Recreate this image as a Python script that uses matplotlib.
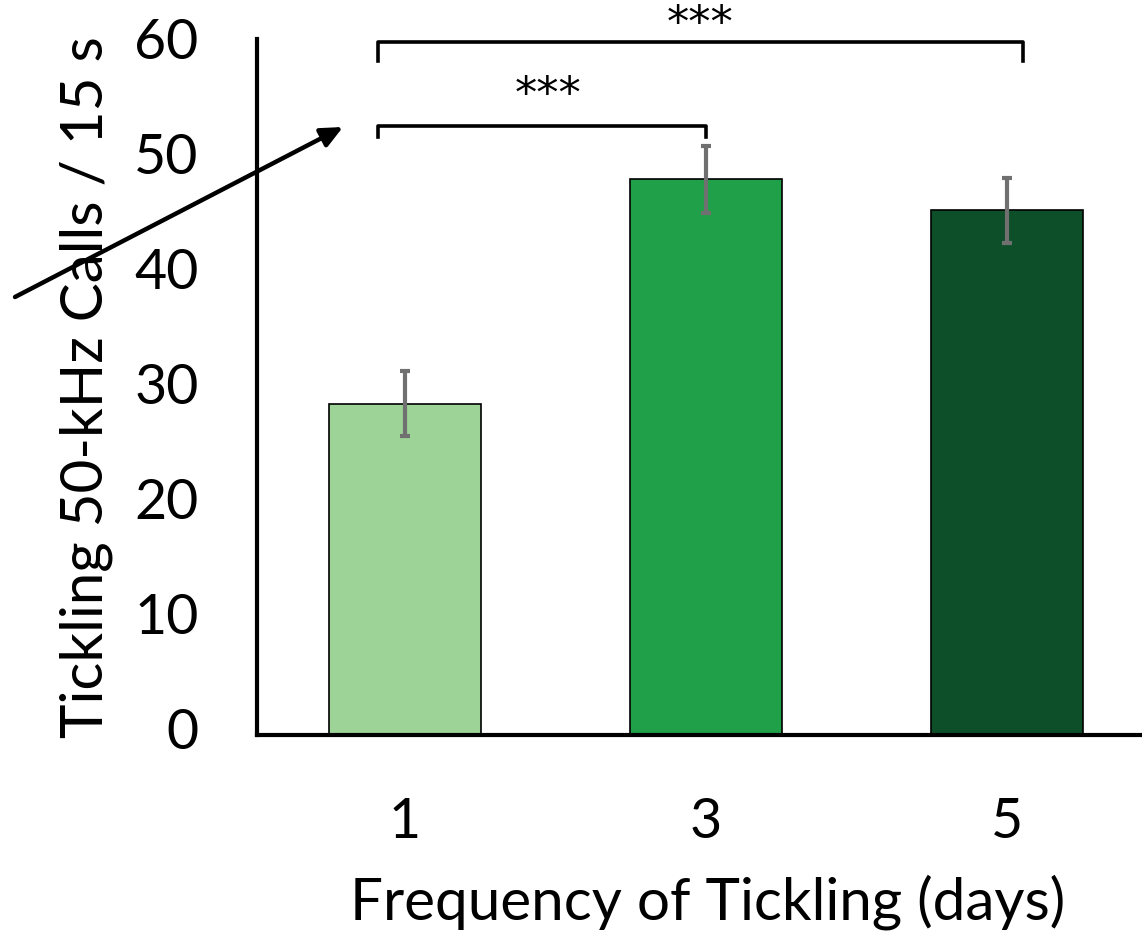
import matplotlib
matplotlib.use("Agg")
import matplotlib.pyplot as plt
from matplotlib.transforms import ScaledTranslation

plt.rcParams['font.family'] = ['Lato', 'DejaVu Sans']

# Data
categories = ["1", "3", "5"]
means = [28.8, 48.3, 45.6]
sem = [2.8, 2.9, 2.8]
bar_colors = ["#9ED398", "#20A048", "#0D4F28"]

fig = plt.figure(figsize=(11.42, 9.32), dpi=100)
ax = fig.add_axes([0.225, 0.2114, 0.7885, 0.7468])

x = range(len(categories))
ax.bar(x, means, width=0.505, color=bar_colors, edgecolor="black", linewidth=1.2, zorder=2)
ax.errorbar(x, means, yerr=sem, fmt="none", ecolor="#707070", elinewidth=3,
            capsize=3.5, capthick=3, zorder=3)

ax.set_xlim(-0.4917, 2.5)
ax.set_ylim(0, 60.5)
ax.set_yticks([0, 10, 20, 30, 40, 50, 60])
ax.set_xticks(list(x))
ax.set_xticklabels(categories)
ax.tick_params(axis="both", length=0, labelsize=40)
ax.tick_params(axis="y", pad=42)
ax.tick_params(axis="x", pad=44.6)

# nudge the y tick labels slightly upward
lift = ScaledTranslation(0, 6 / 100, fig.dpi_scale_trans)
for lbl in ax.get_yticklabels():
    lbl.set_transform(lbl.get_transform() + lift)

for s in ["top", "right"]:
    ax.spines[s].set_visible(False)
for s in ["left", "bottom"]:
    ax.spines[s].set_linewidth(3)

ax.set_ylabel("Tickling 50-kHz Calls / 15 s", fontsize=42, labelpad=15)
ax.set_xlabel("Frequency of Tickling (days)", fontsize=42, labelpad=19)

# Significance brackets
def bracket(x0, x1, y, drop, label, ty, tx):
    ax.plot([x0, x0, x1, x1], [y - drop, y, y, y - drop], color="black",
            linewidth=2.6, clip_on=False, solid_joinstyle="round", zorder=4)
    ax.text(tx, ty, label, ha="center", va="center", fontsize=32,
            family=["DejaVu Sans"], clip_on=False)

bracket(-0.09, 2.053, 60.2, 1.6, "***", 61.8, 0.98)
bracket(-0.09, 1.0, 52.95, 1.0, "***", 55.6, 0.475)

# Pointer arrow
ax.annotate("", xy=(343, 805), xycoords="figure pixels",
            xytext=(15, 635), textcoords="figure pixels",
            arrowprops=dict(arrowstyle="-|>,head_length=1.3,head_width=0.6",
                            color="black", linewidth=3.2, shrinkA=0, shrinkB=0),
            annotation_clip=False)

fig.savefig("out.png", dpi=100)
